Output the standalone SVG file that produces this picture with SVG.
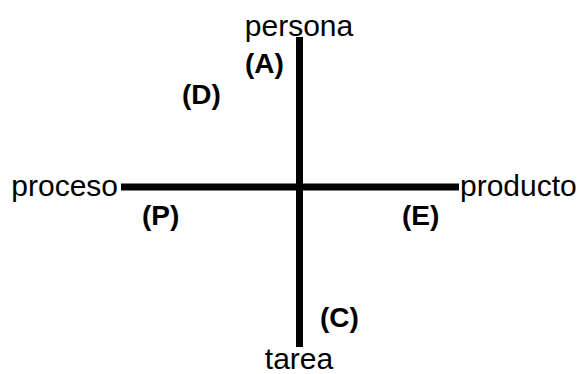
<svg xmlns="http://www.w3.org/2000/svg" width="578" height="374" viewBox="0 0 578 374">
<style>
.ax{stroke:#000;stroke-width:7;fill:none}
.t{font-family:"Liberation Sans",Arial,sans-serif;font-size:30px;fill:#000}
.l{font-family:"Liberation Sans",Arial,sans-serif;font-size:28px;font-weight:bold;fill:#000}
</style>
<rect width="578" height="374" fill="#fff"/>
<g id="connectors">
<line class="ax" x1="299.5" y1="37" x2="299.5" y2="347"/>
<line class="ax" x1="121" y1="187" x2="459" y2="187"/>
</g>
<g id="persona"><text class="t" x="299" y="36" text-anchor="middle">persona</text></g>
<g id="tarea"><text class="t" x="299" y="369" text-anchor="middle">tarea</text></g>
<g id="proceso"><text class="t" x="118" y="196" text-anchor="end">proceso</text></g>
<g id="producto"><text class="t" x="460" y="196">producto</text></g>
<g id="labelA"><text class="l" x="245" y="73">(A)</text></g>
<g id="labelD"><text class="l" x="182" y="104">(D)</text></g>
<g id="labelP"><text class="l" x="142" y="225">(P)</text></g>
<g id="labelE"><text class="l" x="402" y="225">(E)</text></g>
<g id="labelC"><text class="l" x="320" y="327">(C)</text></g>
</svg>
